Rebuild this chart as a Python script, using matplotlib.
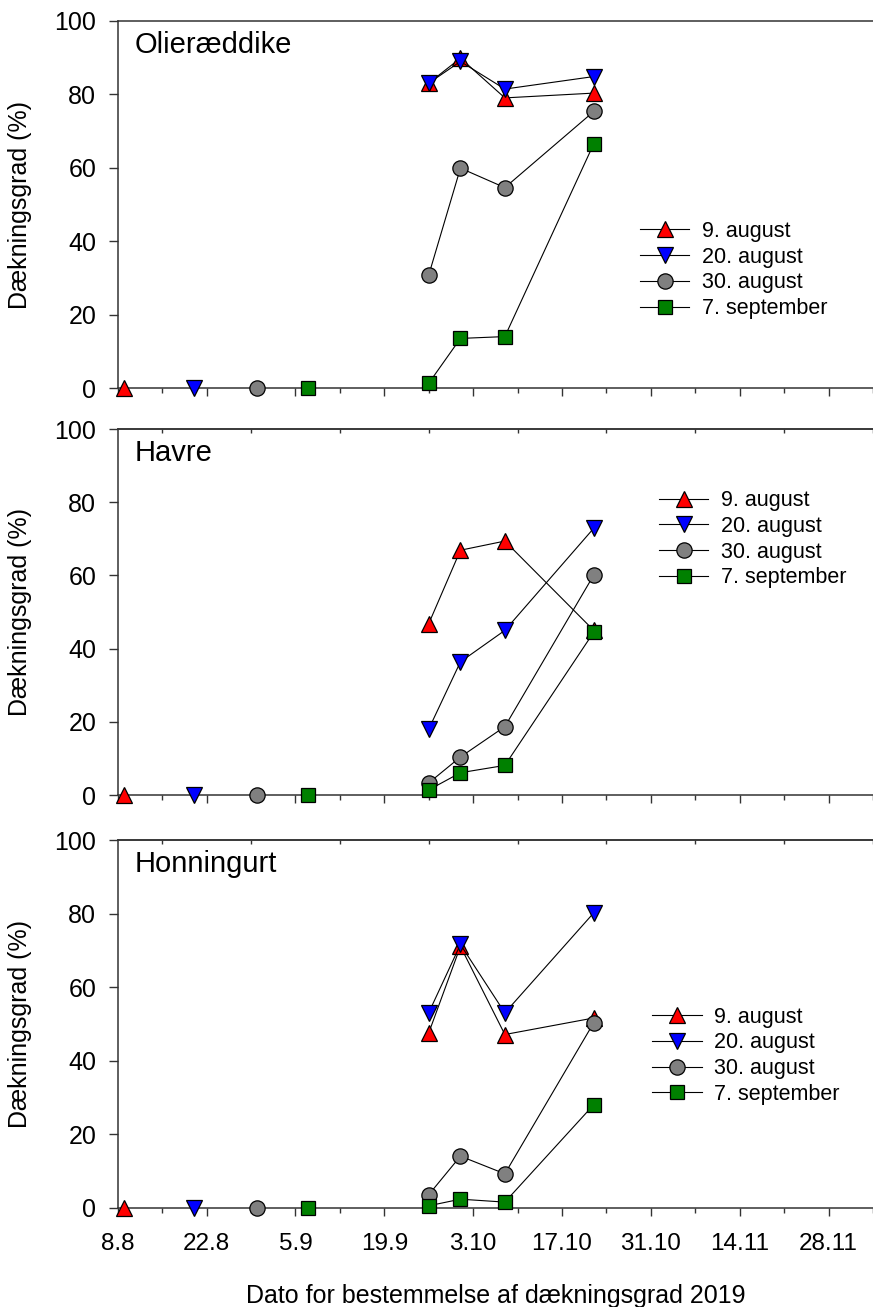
""" plot.py

Dækningsgrad for tre efterafgrøder, fire såtider, 2019.
Three stacked panels sharing the date axis.
"""

from datetime import datetime, timedelta
import matplotlib
matplotlib.use('Agg')
import matplotlib.pyplot as plt
import matplotlib.dates as mdates

plt.rcParams['font.family'] = ['Liberation Sans', 'DejaVu Sans']

# sowing dates (coverage = 0) and the four dates coverage was scored
series_names = ['9. august', '20. august', '30. august', '7. september']
sow_dates = ['2019-08-09', '2019-08-20', '2019-08-30', '2019-09-07']
sow_values = [0, 0, 0, 0]
obs_dates = ['2019-09-26', '2019-10-01', '2019-10-08', '2019-10-22']

# coverage in %, one list per sowing date
olie_9aug = [83.0, 89.8, 79.0, 80.3]
olie_20aug = [83.0, 88.9, 81.4, 84.8]
olie_30aug = [30.8, 59.9, 54.6, 75.3]
olie_7sep = [1.4, 13.6, 14.1, 66.5]

havre_9aug = [46.8, 66.9, 69.4, 45.0]
havre_20aug = [18.0, 36.4, 45.0, 72.9]
havre_30aug = [3.3, 10.4, 18.7, 60.1]
havre_7sep = [1.4, 6.1, 8.1, 44.5]

honn_9aug = [47.6, 71.2, 47.2, 51.7]
honn_20aug = [53.1, 71.7, 53.1, 80.3]
honn_30aug = [3.6, 14.1, 9.3, 50.4]
honn_7sep = [0.6, 2.4, 1.6, 28.1]

crops = ['Olieræddike', 'Havre', 'Honningurt']
tick_labels = ['8.8', '22.8', '5.9', '19.9', '3.10', '17.10', '31.10', '14.11', '28.11']

# styles
markers = ['^', 'v', 'o', 's']
face_colors = ['#ff0000', '#0000ff', '#808080', '#008000']
marker_sizes = [11, 11, 11, 10]
AX_COLOR = '#333333'


def to_num(s):
    return mdates.date2num(datetime.strptime(s, '%Y-%m-%d'))


def draw_panel(ax, title, values, legend_xy, top_ticks, show_dates):
    """one crop, four sowing dates"""
    obs_x = [to_num(d) for d in obs_dates]
    for i, name in enumerate(series_names):
        style = dict(marker=markers[i], ms=marker_sizes[i], mfc=face_colors[i],
                     mec='black', mew=0.9, clip_on=False, zorder=3 + i)
        ax.plot(obs_x, values[i], color='black', lw=0.8, label=name, **style)
        ax.plot([to_num(sow_dates[i])], [sow_values[i]], ls='none', **style)

    ax.set_ylim(0, 100)
    ax.set_yticks(range(0, 101, 20))
    start = datetime(2019, 8, 8)
    ax.set_xlim(mdates.date2num(start), mdates.date2num(start) + 118.42)
    majors = [mdates.date2num(start + timedelta(days=14 * k)) for k in range(9)]
    minors = [mdates.date2num(start + timedelta(days=7 + 14 * k)) for k in range(9)]
    ax.set_xticks(majors)
    ax.set_xticks(minors, minor=True)
    ax.set_xticklabels(tick_labels if show_dates else [])

    for side in ['left', 'bottom', 'top']:
        ax.spines[side].set_color(AX_COLOR)
        ax.spines[side].set_linewidth(1.1)
    ax.spines['right'].set_visible(False)

    ax.tick_params(axis='y', direction='out', length=6.5, width=1.0,
                   color=AX_COLOR, labelsize=18, pad=9)
    ax.tick_params(axis='x', which='major', direction='out', length=5.8,
                   width=1.0, color=AX_COLOR, labelsize=17.5, pad=12)
    ax.tick_params(axis='x', which='minor', direction='out', length=3.8,
                   width=1.0, color=AX_COLOR)

    if top_ticks:
        # inward ticks on the top edge, half way between the bottom majors
        sec = ax.secondary_xaxis('top')
        sec.set_xticks(minors)
        sec.tick_params(direction='in', length=3.2, width=1.0, color=AX_COLOR,
                        labeltop=False)
        sec.spines['top'].set_color(AX_COLOR)
        sec.spines['top'].set_linewidth(1.1)

    ax.set_ylabel('Dækningsgrad (%)', fontsize=18)
    ax.yaxis.set_label_coords(-0.1135, 0.5)
    ax.text(0.0225, 0.935, title, transform=ax.transAxes, fontsize=21,
            ha='left', va='center')

    ax.legend(loc='center left', bbox_to_anchor=legend_xy, frameon=False,
              fontsize=15.5, numpoints=1, handlelength=2.28, handletextpad=0.59,
              labelspacing=0.22, borderpad=0, borderaxespad=0)


if __name__ == '__main__':
    fig = plt.figure(figsize=(8.73, 13.07), dpi=100)
    left, width = 0.1348, 0.8652
    ax1 = fig.add_axes([left, 0.7028, width, 0.2814])
    ax2 = fig.add_axes([left, 0.3917, width, 0.2800])
    ax3 = fig.add_axes([left, 0.07575, width, 0.2812])

    draw_panel(ax1, crops[0], [olie_9aug, olie_20aug, olie_30aug, olie_7sep],
               (0.692, 0.322), top_ticks=False, show_dates=False)
    draw_panel(ax2, crops[1], [havre_9aug, havre_20aug, havre_30aug, havre_7sep],
               (0.7167, 0.699), top_ticks=True, show_dates=False)
    draw_panel(ax3, crops[2], [honn_9aug, honn_20aug, honn_30aug, honn_7sep],
               (0.708, 0.414), top_ticks=True, show_dates=True)

    ax3.set_xlabel('Dato for bestemmelse af dækningsgrad 2019', fontsize=18,
                   labelpad=21)

    fig.savefig('out.png', dpi=100)
